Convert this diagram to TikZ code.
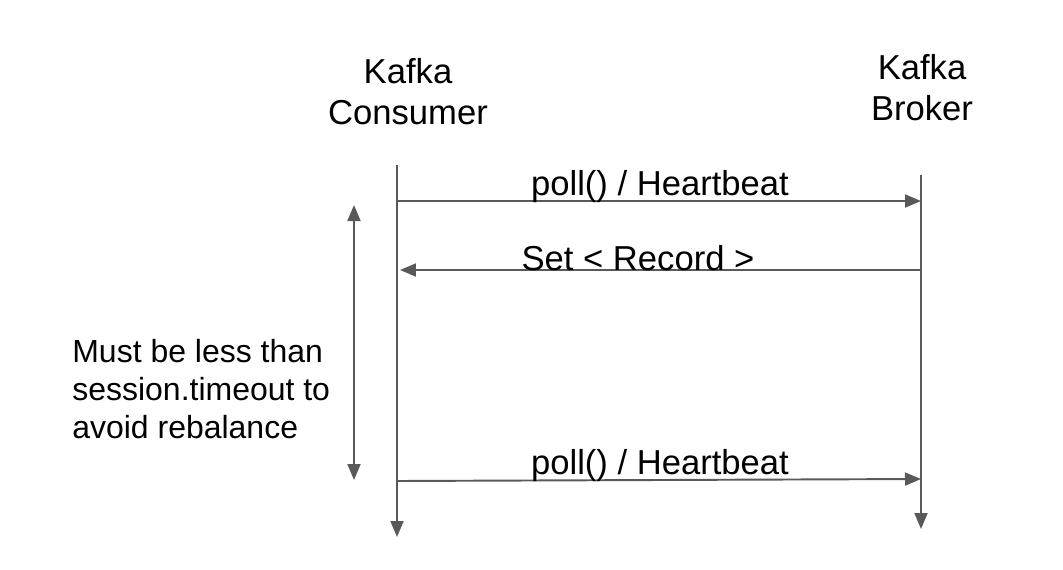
\documentclass[tikz,border=0pt]{standalone}
\usepackage{fontspec}
\setmainfont{Liberation Sans}
\usetikzlibrary{arrows.meta,positioning}
\definecolor{linegray}{RGB}{89,89,89}

\begin{document}
\begin{tikzpicture}[x=0.02cm, y=-0.02cm]
		\tikzstyle{every node}=[font=\fontsize{19.7}{23.3}\selectfont, inner sep=0pt]
		\tikzset{msg/.style={line width=1.1pt, draw=linegray, -{Triangle[length=0.32cm, width=0.26cm]}, color=linegray}}
		\useasboundingbox (0,0) rectangle (1063,569);
		% lifelines
		\coordinate (cTop) at (397,165);
		\coordinate (cEnd) at (397,537);
		\coordinate (bTop) at (921,175);
		\coordinate (bEnd) at (921,529);
		\node [align=center] (consumer) at (408,92) {Kafka\\Consumer};
		\node [align=center] (broker) at (922,88) {Kafka\\Broker};
		\draw [msg] (cTop) -- (cEnd);
		\draw [msg] (bTop) -- (bEnd);
		% messages
		\coordinate (pollA) at (397,201);
		\coordinate (pollB) at (921,201);
		\coordinate (setA) at (921,270);
		\coordinate (setB) at (400,270);
		\coordinate (pollC) at (397,481);
		\coordinate (pollD) at (921,479);
		\draw [msg] (pollA) -- (pollB);
		\draw [msg] (setA) -- (setB);
		\draw [msg] (pollC) -- (pollD);
		\node (poll1) at (660,187) {poll() / Heartbeat};
		\node (records) at (638,258) {Set < Record >};
		\node (poll2) at (660,466) {poll() / Heartbeat};
		% timeout span
		\coordinate (spanTop) at (354,205);
		\coordinate (spanEnd) at (354,480);
		\draw [msg, {Triangle[length=0.32cm, width=0.26cm]}-{Triangle[length=0.32cm, width=0.26cm]}] (spanTop) -- (spanEnd);
		\node [anchor=west, align=left, font=\fontsize{18.2}{21.6}\selectfont] (note) at (72,389) {Must be less than\\session.timeout to\\avoid rebalance};
	\end{tikzpicture}
\end{document}
